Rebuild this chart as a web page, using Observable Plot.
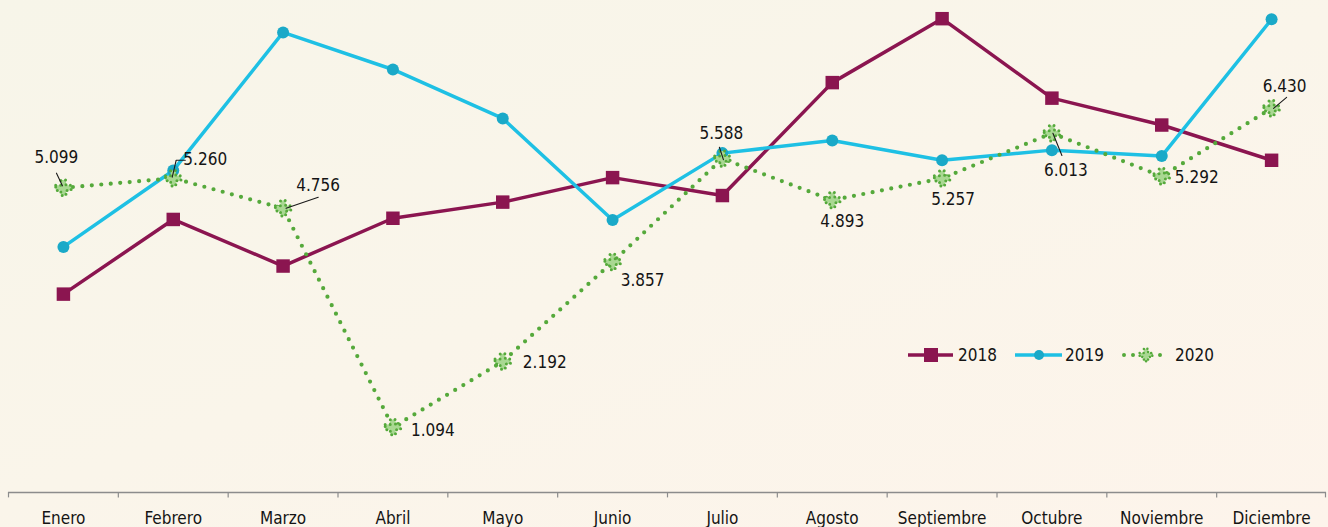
<!DOCTYPE html>
<html><head><meta charset="utf-8">
<script src="https://cdn.jsdelivr.net/npm/d3@7"></script>
<script src="https://cdn.jsdelivr.net/npm/@observablehq/plot@0.6"></script>
<style>
html,body{margin:0;padding:0;background:#faf5eb;}
#wrap{position:relative;width:1328px;height:527px;overflow:hidden;background:linear-gradient(160deg,#f7f5e9 0%,#faf5ea 50%,#fdf4eb 100%);}
#legend{position:absolute;left:900px;top:341px;}
</style></head>
<body><div id="wrap"><div id="chart"></div><div id="legend"></div></div>
<script>
const months = ["Enero","Febrero","Marzo","Abril","Mayo","Junio","Julio","Agosto","Septiembre","Octubre","Noviembre","Diciembre"];
const v2018 = [3.32, 4.57, 3.79, 4.59, 4.86, 5.27, 4.97, 6.86, 7.93, 6.60, 6.15, 5.56];
const v2019 = [4.11, 5.39, 7.70, 7.08, 6.26, 4.56, 5.68, 5.89, 5.56, 5.73, 5.63, 7.92];
const v2020 = [5.099, 5.260, 4.756, 1.094, 2.192, 3.857, 5.588, 4.893, 5.257, 6.013, 5.292, 6.430];
const series = ["2018", "2019", "2020"];

// label placement (pixel offsets from each 2020 point)
const labelOffsets = [[-7,-30],[32,-19],[35,-23],[40,3],[42,1],[30,19],[-1,-25],[10,21],[11,21],[14,37],[35,1],[13,-22]];
// leader lines: month index, start offset, length, angle (deg, clockwise from up)
const leaders = [
  {i:0, dx:-1, dy:-2, len:14, rot:-25},
  {i:1, dx:-1, dy:-1, len:17, rot:13},
  {i:1, dx:3, dy:-18, len:9, rot:90},
  {i:2, dx:3, dy:0, len:34, rot:71},
  {i:6, dx:1, dy:1, len:13, rot:-18},
  {i:9, dx:1, dy:0, len:24, rot:158},
  {i:11, dx:2, dy:0, len:17, rot:50}
];

const W = 1328, H = 527, ML = 8, MR = 2, MT = 14, MB = 35;
const step = (W - ML - MR) / months.length;
const FONT = "'DejaVu Sans Condensed', 'DejaVu Sans', sans-serif";
const FS = 17;
const TXT = "#141414";
const C18 = "#8b1550", C19 = "#1ec0e4", C19d = "#1aa9c8", C20 = "#55a93b", C20f = "#a9d892";

const rows = months.map((m, i) => ({m, i, a: v2018[i], b: v2019[i], c: v2020[i]}));
const leaderShape = {draw(ctx, l) { ctx.moveTo(0, 0); ctx.lineTo(0, -l); }};

const marks = [
  Plot.ruleY([0], {stroke: "#8c8c8c", strokeWidth: 1.5}),
  Plot.ruleX(months, {x: d => d, y1: 0, y2: -0.09, dx: -step / 2, stroke: "#8c8c8c", strokeWidth: 1.2}),
  Plot.ruleX([months[months.length - 1]], {x: d => d, y1: 0, y2: -0.09, dx: step / 2 - 1, stroke: "#8c8c8c", strokeWidth: 1.2}),
  Plot.line(rows, {x: "m", y: "a", stroke: C18, strokeWidth: 3.5}),
  Plot.dot(rows, {x: "m", y: "a", symbol: "square", r: 7.6, fill: C18}),
  Plot.line(rows, {x: "m", y: "b", stroke: C19, strokeWidth: 3.5}),
  Plot.dot(rows, {x: "m", y: "b", r: 6, fill: C19d}),
  Plot.line(rows, {x: "m", y: "c", stroke: C20, strokeWidth: 4.2, strokeDasharray: "0,9.5", strokeLinecap: "round"}),
  Plot.dot(rows, {x: "m", y: "c", symbol: "cross", r: 6.5, fill: C20f, stroke: C20, strokeWidth: 3, strokeDasharray: "0,5", strokeLinecap: "round"}),
  ...leaders.map(l => Plot.vector([rows[l.i]], {x: "m", y: "c", length: l.len, rotate: l.rot, anchor: "start", shape: leaderShape, stroke: "#1a1a1a", strokeWidth: 1.1, dx: l.dx, dy: l.dy})),
  ...rows.map((r, i) => Plot.text([r], {x: "m", y: "c", text: d => d.c.toFixed(3), dx: labelOffsets[i][0], dy: labelOffsets[i][1], fill: TXT, fontSize: FS}))
];

const chart = Plot.plot({
  width: W, height: H,
  marginLeft: ML, marginRight: MR, marginTop: MT, marginBottom: MB,
  style: {background: "transparent", fontFamily: FONT, fontSize: FS + "px", color: TXT, overflow: "visible"},
  x: {type: "point", domain: months, padding: 0.5, round: false, label: null, tickSize: 0, tickPadding: 19},
  y: {domain: [0, 8], axis: null},
  marks
});
document.getElementById("chart").appendChild(chart);

// legend overlay
const lg = d3.select("#legend").append("svg").attr("width", 330).attr("height", 30)
  .style("font-family", FONT).style("font-size", FS + "px");
const items = [
  {x: 8, label: series[0]},
  {x: 115, label: series[1]},
  {x: 222, label: series[2]}
];
// 2018
lg.append("line").attr("x1", items[0].x).attr("x2", items[0].x + 45).attr("y1", 14).attr("y2", 14).attr("stroke", C18).attr("stroke-width", 3.5);
lg.append("rect").attr("x", items[0].x + 16).attr("y", 7).attr("width", 14).attr("height", 14).attr("fill", C18);
// 2019
lg.append("line").attr("x1", items[1].x).attr("x2", items[1].x + 47).attr("y1", 14).attr("y2", 14).attr("stroke", C19).attr("stroke-width", 3.5);
lg.append("circle").attr("cx", items[1].x + 24).attr("cy", 14).attr("r", 5).attr("fill", C19d);
// 2020
lg.append("line").attr("x1", items[2].x + 2).attr("x2", items[2].x + 47).attr("y1", 14).attr("y2", 14).attr("stroke", C20).attr("stroke-width", 4).attr("stroke-dasharray", "0,9").attr("stroke-linecap", "round");
lg.append("path").attr("d", d3.symbol(d3.symbolCross, 90)()).attr("transform", `translate(${items[2].x + 24},14)`)
  .attr("fill", C20f).attr("stroke", C20).attr("stroke-width", 2.5).attr("stroke-dasharray", "0,4").attr("stroke-linecap", "round");
items.forEach((it, k) => {
  lg.append("text").attr("x", it.x + (k === 2 ? 53 : 50)).attr("y", 14).attr("dy", "0.35em").attr("fill", TXT).text(it.label);
});
</script>
</body></html>
